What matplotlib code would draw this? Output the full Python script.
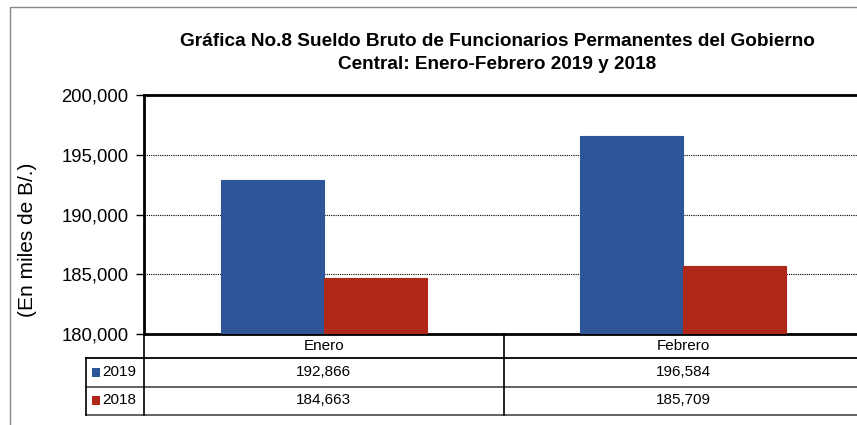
import matplotlib
matplotlib.use("Agg")
import matplotlib.pyplot as plt
import matplotlib.transforms as mtransforms
from matplotlib.patches import Rectangle
from matplotlib.lines import Line2D
from matplotlib.ticker import FuncFormatter
import numpy as np

plt.rcParams['font.family'] = ['Liberation Sans', 'DejaVu Sans']

categories = ["Enero", "Febrero"]
series_names = ["2019", "2018"]
values_2019 = [192866, 196584]
values_2018 = [184663, 185709]
colors = ["#2E5597", "#B02817"]
title = "Gráfica No.8 Sueldo Bruto de Funcionarios Permanentes del Gobierno\nCentral: Enero-Febrero 2019 y 2018"
ylabel = "(En miles de B/.)"

W, H = 857, 425
fig = plt.figure(figsize=(W / 100, H / 100), dpi=100)

def fx(px):
    return px / W

def fy(py):
    return 1 - py / H

ax_left, ax_right, ax_top, ax_bottom = 144, 863, 95, 334
ax = fig.add_axes([fx(ax_left), fy(ax_bottom), fx(ax_right - ax_left), fy(ax_top) - fy(ax_bottom)])

x = np.arange(len(categories))
bw = 0.287
series = [values_2019, values_2018]
for i, (vals, c) in enumerate(zip(series, colors)):
    ax.bar(x + (i - 0.5) * bw, vals, width=bw, color=c, edgecolor=c, linewidth=0.8, zorder=3)

ax.set_xlim(-0.5, 1.5)
ax.set_ylim(180000, 200000)
ax.set_yticks(np.arange(180000, 200001, 5000))
ax.yaxis.set_major_formatter(FuncFormatter(lambda v, p: f"{int(v):,}"))
ax.tick_params(axis='y', labelsize=13.3, length=6, width=1, direction='out', pad=5)
ax.set_xticks([])
ax.yaxis.grid(True, color='black', linestyle=(0, (1, 1)), linewidth=0.8, zorder=1)
for s in ['top', 'left', 'bottom', 'right']:
    ax.spines[s].set_linewidth(2)
    ax.spines[s].set_color('black')
fig.text(fx(28), fy(240), ylabel, rotation=90, ha='center', va='center', fontsize=15)

fig.text(fx(497), fy(53), title, ha='center', va='center', fontsize=13.7,
         fontweight='bold', linespacing=1.4)

# outer border
fig.add_artist(Rectangle((fx(10), fy(440)), fx(900), fy(7) - fy(440),
                         transform=fig.transFigure, fill=False, edgecolor='#888888', linewidth=1))

# data table
row_lines = [358, 386.5, 415]
line_cols = ['black', '#555555', '#555555']
for yy, lc in zip(row_lines, line_cols):
    fig.add_artist(Line2D([fx(86), 1.0], [fy(yy), fy(yy)], transform=fig.transFigure,
                          color=lc, linewidth=1.3))
fig.add_artist(Line2D([fx(86), fx(86)], [fy(358), fy(415)], transform=fig.transFigure,
                      color='black', linewidth=1.2))
fig.add_artist(Line2D([fx(144), fx(144)], [fy(334), fy(415)], transform=fig.transFigure,
                      color='black', linewidth=1.2))
blend = mtransforms.blended_transform_factory(ax.transData, fig.transFigure)
fig.add_artist(Line2D([0.5, 0.5], [fy(334), fy(415)], transform=blend,
                      color='black', linewidth=1.2))

for xi, cat in zip(x, categories):
    fig.text(xi, fy(346), cat, transform=blend, ha='center', va='center', fontsize=11)
row_centers = [372, 400.5]
for name, vals, c, yc in zip(series_names, series, colors, row_centers):
    fig.add_artist(Rectangle((fx(91.5), fy(yc + 4.5)), fx(8.5), fy(yc - 4.5) - fy(yc + 4.5),
                             transform=fig.transFigure, facecolor=c, edgecolor='none'))
    fig.text(fx(102), fy(yc), name, ha='left', va='center', fontsize=11)
    for xi, v in zip(x, vals):
        fig.text(xi, fy(yc), f"{v:,}", transform=blend, ha='center', va='center', fontsize=11)

fig.savefig("out.png", dpi=100)
